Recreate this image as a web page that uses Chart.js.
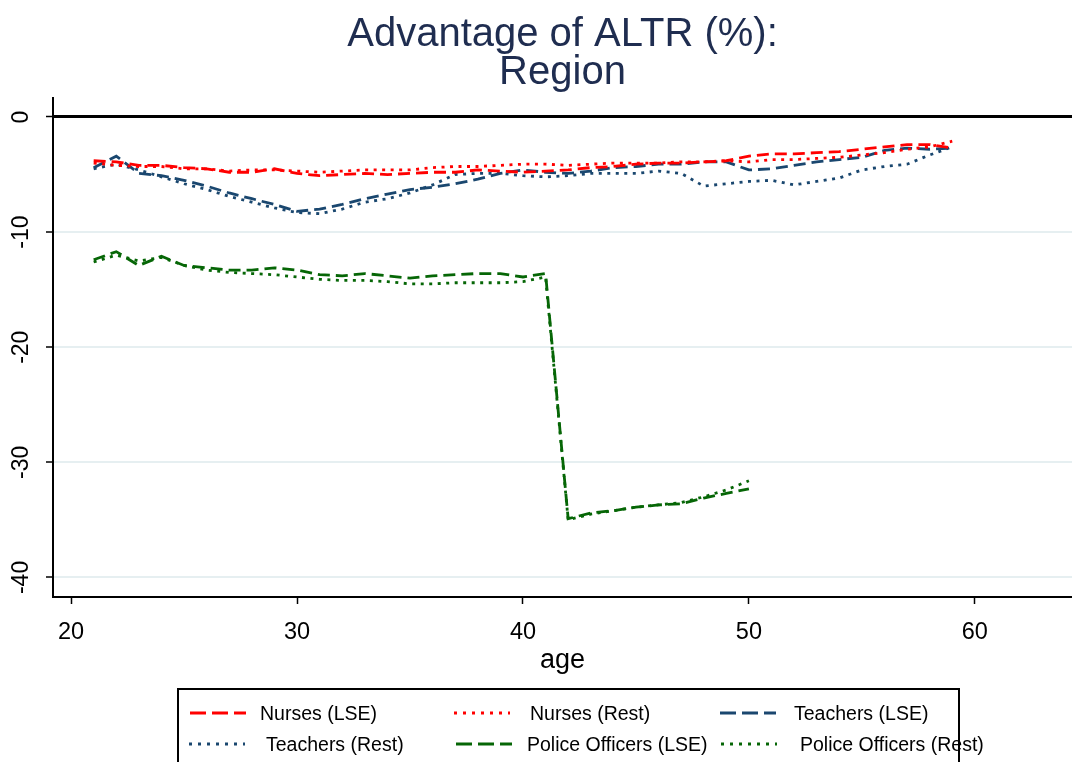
<!DOCTYPE html>
<html>
<head>
<meta charset="utf-8">
<script src="https://cdn.jsdelivr.net/npm/chart.js@4"></script>
<style>
    html, body { margin: 0; padding: 0; background: #fff; overflow: hidden; }
    #wrap { position: relative; width: 1072px; height: 762px; }
    #chart { position: absolute; left: 0; top: 0; }
    .lg-item { position: absolute; font-family: 'Liberation Sans', Arial, sans-serif; font-size: 19.5px; line-height: 24px; color: #000; white-space: nowrap; }
    .lg-line { position: absolute; }
    #legend-box { position: absolute; left: 177px; top: 688px; width: 783px; height: 120px; border: 2px solid #000; box-sizing: border-box; }
</style>
</head>
<body>
<div id="wrap">
    <canvas id="chart" width="1072" height="762"></canvas>
    <div id="legend"></div>
    <div id="legend-box"></div>
</div>
<script>
// ages of the two long series (nurses, teachers) and of the police series
const agesLong = [21, 22, 23, 24, 25, 26, 27, 28, 29, 30, 31, 32, 33, 34, 35, 36, 37, 38, 39, 40,
                  41, 42, 43, 44, 45, 46, 47, 48, 49, 50, 51, 52, 53, 54, 55, 56, 57, 58, 59];
const agesPolice = [21, 22, 23, 24, 25, 26, 27, 28, 29, 30, 31, 32, 33, 34, 35, 36, 37, 38, 39, 40,
                    41, 42, 43, 44, 45, 46, 47, 48, 49, 50];

const nursesLSE = [-3.8, -3.9, -4.2, -4.2, -4.4, -4.5, -4.8, -4.8, -4.5, -4.9, -5.1, -5.0, -4.9, -5.0, -4.9, -4.8, -4.8, -4.6, -4.7, -4.8,
                   -4.7, -4.6, -4.4, -4.3, -4.1, -4.0, -4.0, -3.9, -3.8, -3.4, -3.2, -3.2, -3.1, -3.0, -2.8, -2.6, -2.4, -2.4, -2.7];
const nursesRest = [-4.0, -4.2, -4.3, -4.3, -4.5, -4.5, -4.7, -4.6, -4.6, -4.7, -4.8, -4.7, -4.6, -4.6, -4.6, -4.4, -4.3, -4.3, -4.2, -4.1,
                    -4.1, -4.2, -4.1, -4.0, -4.0, -4.0, -3.9, -3.9, -3.8, -3.9, -3.7, -3.7, -3.6, -3.5, -3.3, -3.1, -2.8, -2.6, -2.1];
const teachersLSE = [-4.4, -3.4, -4.9, -5.1, -5.5, -6.0, -6.6, -7.1, -7.6, -8.2, -8.0, -7.6, -7.1, -6.7, -6.3, -6.1, -5.8, -5.4, -4.9, -4.6,
                     -4.8, -4.9, -4.7, -4.4, -4.3, -4.1, -4.1, -3.9, -3.9, -4.6, -4.5, -4.2, -3.9, -3.7, -3.5, -2.9, -2.7, -2.8, -2.7];
const teachersRest = [-4.5, -4.1, -4.6, -5.2, -5.8, -6.3, -6.9, -7.4, -7.9, -8.3, -8.4, -8.0, -7.4, -7.1, -6.6, -5.9, -5.0, -4.9, -4.9, -5.1,
                      -5.2, -5.1, -4.9, -4.9, -4.9, -4.7, -4.9, -6.0, -5.8, -5.6, -5.5, -5.9, -5.6, -5.3, -4.6, -4.3, -4.1, -3.3, -2.6];
const policeLSE = [-12.4, -11.7, -12.9, -12.1, -12.9, -13.1, -13.3, -13.3, -13.1, -13.3, -13.7, -13.8, -13.6, -13.8, -14.0, -13.8, -13.7, -13.6, -13.6, -13.9,
                   -13.6, -34.9, -34.4, -34.2, -33.9, -33.7, -33.6, -33.1, -32.7, -32.3];
const policeRest = [-12.6, -12.0, -12.5, -12.2, -12.9, -13.3, -13.5, -13.6, -13.7, -13.9, -14.1, -14.2, -14.2, -14.3, -14.5, -14.5, -14.4, -14.4, -14.4, -14.3,
                    -13.9, -35.0, -34.5, -34.2, -33.9, -33.7, -33.5, -33.0, -32.4, -31.6];

const xTicks = [20, 30, 40, 50, 60];
const yTicks = [-40, -30, -20, -10, 0];

const RED = '#ff0000';
const NAVY = '#1a476f';
const GREEN = '#066606';
const DASH = [12, 6];
const DOT = [3, 5.5];

const series = [
    { label: 'Nurses (LSE)', ages: agesLong, values: nursesLSE, color: RED, dash: DASH },
    { label: 'Nurses (Rest)', ages: agesLong, values: nursesRest, color: RED, dash: DOT },
    { label: 'Teachers (LSE)', ages: agesLong, values: teachersLSE, color: NAVY, dash: DASH },
    { label: 'Teachers (Rest)', ages: agesLong, values: teachersRest, color: NAVY, dash: DOT },
    { label: 'Police Officers (LSE)', ages: agesPolice, values: policeLSE, color: GREEN, dash: DASH },
    { label: 'Police Officers (Rest)', ages: agesPolice, values: policeRest, color: GREEN, dash: DOT }
];

Chart.defaults.font.family = "'Liberation Sans', Arial, sans-serif";

const datasets = series.map(s => ({
    label: s.label,
    data: s.ages.map((a, i) => ({ x: a, y: s.values[i] })),
    borderColor: s.color,
    borderDash: s.dash,
    borderWidth: 2.8,
    pointRadius: 0,
    tension: 0,
    fill: false
}));

new Chart(document.getElementById('chart'), {
    type: 'line',
    data: { datasets },
    options: {
        responsive: false,
        animation: false,
        layout: { padding: { left: 0, right: 0, top: 0, bottom: 81 } },
        plugins: {
            legend: { display: false },
            tooltip: { enabled: false },
            title: {
                display: true,
                fullSize: false,
                text: ['Advantage of ALTR (%):', 'Region'],
                color: '#1f2d50',
                font: { size: 40, weight: 'normal', lineHeight: 0.95 },
                padding: { top: 16, bottom: 6 }
            }
        },
        scales: {
            x: {
                type: 'linear',
                min: 19.2,
                max: 64.3,
                afterBuildTicks: s => { s.ticks = xTicks.map(v => ({ value: v })); },
                afterFit: s => { s.height = 84; },
                ticks: { color: '#000', font: { size: 23.5 }, padding: 14, maxRotation: 0, autoSkip: false },
                grid: { drawOnChartArea: false, tickLength: 7, tickColor: '#000', tickWidth: 1.5 },
                border: { color: '#000', width: 2 },
                title: { display: true, text: 'age', color: '#000', font: { size: 27 }, padding: { top: 0, bottom: 4 } }
            },
            y: {
                min: -41.7,
                max: 1.65,
                afterBuildTicks: s => { s.ticks = yTicks.map(v => ({ value: v })); },
                afterFit: s => { s.width = 53; },
                ticks: { color: '#000', font: { size: 23 }, padding: 8, minRotation: 90, maxRotation: 90, crossAlign: 'center', autoSkip: false },
                grid: {
                    color: ctx => ctx.tick && ctx.tick.value === 0 ? '#000' : '#e6eff1',
                    lineWidth: ctx => ctx.tick && ctx.tick.value === 0 ? 3 : 2,
                    tickLength: 7,
                    tickColor: '#000',
                    tickWidth: 1.5
                },
                border: { color: '#000', width: 2 }
            }
        }
    }
});

// legend laid out in three columns, like the original
const legendPos = [
    { lineX: 190, textX: 260, y: 713 },
    { lineX: 454, textX: 530, y: 713 },
    { lineX: 720, textX: 794, y: 713 },
    { lineX: 189, textX: 266, y: 744 },
    { lineX: 456, textX: 527, y: 744 },
    { lineX: 721, textX: 800, y: 744 }
];

const legendHtml = series.map((s, i) => {
    const p = legendPos[i];
    const dashArr = s.dash === DASH ? '16 6' : '3 6';
    return `
        <svg class="lg-line" style="left:${p.lineX}px; top:${p.y - 3}px" width="56" height="6">
            <line x1="0" y1="3" x2="56" y2="3" stroke="${s.color}" stroke-width="3" stroke-dasharray="${dashArr}"/>
        </svg>
        <div class="lg-item" style="left:${p.textX}px; top:${p.y - 12}px">${s.label}</div>`;
}).join('');

document.getElementById('legend').innerHTML = legendHtml;
</script>
</body>
</html>
